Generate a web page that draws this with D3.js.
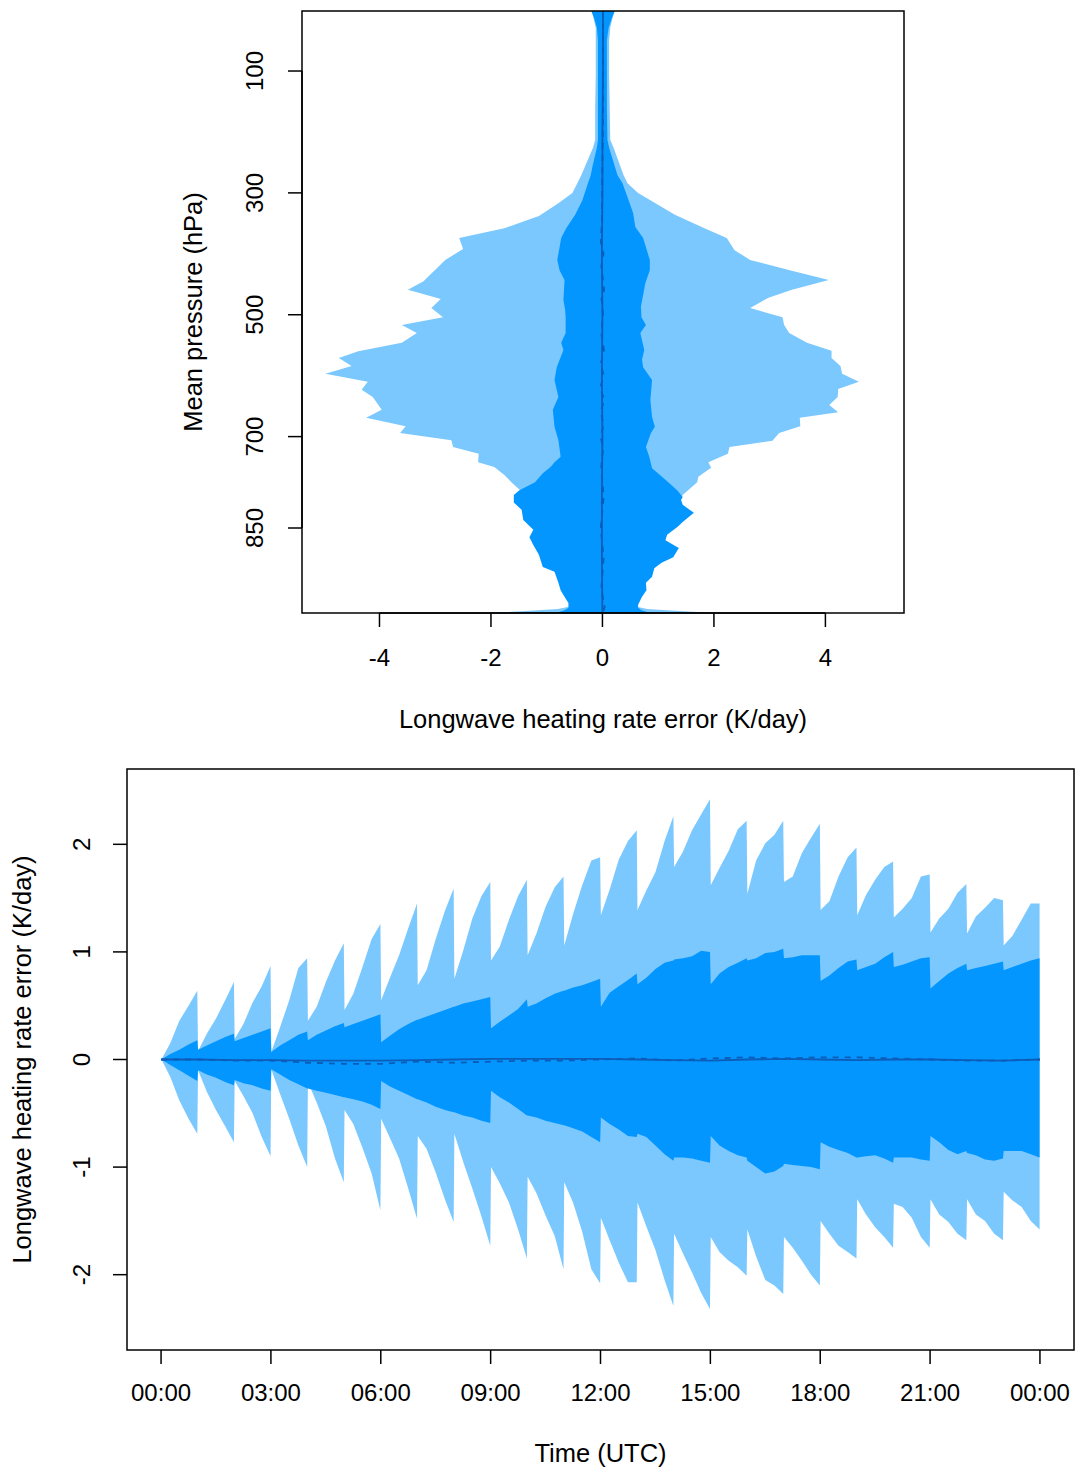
<!DOCTYPE html>
<meta charset="utf-8">
<script src="https://d3js.org/d3.v7.min.js"></script>
<style>
  body { margin: 0; background: #ffffff; }
  svg text { font-family: "Liberation Sans", Arial, Helvetica, sans-serif; font-size: 24px; fill: #000; }
  svg text.title { font-size: 25.5px; }
</style>
<div id="my_dataviz"></div>
<script>

// ---------- top panel: error profile vs mean pressure ----------
// each edge is [pressure (hPa), heating rate error (K/day)]
var lightLeft = [[1.5,-0.19],[13,-0.16],[29,-0.12],[50,-0.12],[107,-0.12],[160,-0.13],[213,-0.13],[226,-0.17],[271,-0.38],[284,-0.45],[300,-0.54],[317,-0.79],[338,-1.14],[358,-1.76],[374,-2.57],[392,-2.50],[410,-2.82],[445,-3.21],[459,-3.49],[474,-2.90],[489,-3.07],[504,-2.86],[517,-3.60],[530,-3.33],[546,-3.60],[560,-4.38],[571,-4.73],[584,-4.50],[597,-4.97],[610,-4.21],[623,-4.32],[635,-4.12],[656,-3.96],[669,-4.24],[683,-3.53],[694,-3.63],[706,-2.71],[717,-2.68],[728,-2.22],[742,-2.23],[750,-1.94],[763,-1.76],[776,-1.62],[787,-1.49],[800,-1.30],[900,-0.90],[970,-0.55],[979,-0.58],[983,-0.80],[986,-1.30],[988.3,-1.78],[989.5,-2.00]];
var lightRight = [[1.5,0.22],[13,0.18],[29,0.14],[50,0.12],[107,0.12],[160,0.13],[213,0.14],[226,0.20],[271,0.38],[284,0.45],[300,0.64],[336,1.30],[358,1.83],[374,2.23],[394,2.37],[410,2.65],[427,3.36],[443,4.06],[459,3.40],[472,2.98],[489,2.65],[504,3.23],[517,3.26],[530,3.35],[546,3.67],[559,4.11],[571,4.11],[584,4.27],[597,4.30],[610,4.60],[622,4.23],[635,4.22],[648,4.07],[660,4.23],[669,3.54],[683,3.55],[694,3.17],[707,3.05],[717,2.28],[728,2.25],[742,1.90],[751,1.95],[766,1.72],[775,1.70],[796,1.44],[850,1.20],[970,0.55],[979,0.60],[983,0.80],[986,1.30],[988.3,1.78],[989.5,2.00]];
var darkLeft = [[1.5,-0.20],[13,-0.15],[29,-0.10],[50,-0.08],[107,-0.08],[160,-0.08],[213,-0.08],[226,-0.10],[257,-0.18],[271,-0.21],[284,-0.26],[312,-0.36],[336,-0.49],[358,-0.65],[374,-0.74],[410,-0.81],[427,-0.77],[443,-0.68],[476,-0.70],[492,-0.67],[504,-0.66],[530,-0.66],[546,-0.74],[558,-0.70],[586,-0.82],[607,-0.86],[635,-0.79],[656,-0.89],[684,-0.86],[706,-0.79],[733,-0.75],[742,-0.86],[750,-0.93],[760,-1.07],[775,-1.21],[788,-1.49],[796,-1.59],[808,-1.59],[820,-1.45],[837,-1.42],[853,-1.24],[865,-1.31],[878,-1.24],[894,-1.14],[914,-1.07],[922,-0.86],[940,-0.79],[952,-0.75],[963,-0.68],[973,-0.61],[981,-0.61],[985,-0.68],[988,-0.78],[989.5,-0.90]];
var darkRight = [[1.5,0.22],[13,0.17],[29,0.11],[50,0.08],[107,0.08],[160,0.08],[213,0.09],[226,0.12],[271,0.27],[284,0.36],[312,0.47],[333,0.55],[356,0.59],[374,0.73],[410,0.85],[427,0.85],[448,0.77],[487,0.69],[504,0.70],[517,0.78],[530,0.68],[558,0.75],[574,0.71],[586,0.73],[607,0.89],[640,0.86],[668,0.89],[684,0.94],[694,0.87],[717,0.78],[733,0.84],[752,0.89],[771,1.13],[788,1.34],[799,1.44],[804,1.41],[812,1.44],[825,1.64],[840,1.44],[848,1.35],[861,1.16],[870,1.13],[883,1.37],[898,1.27],[907,1.06],[916,0.93],[930,0.89],[940,0.78],[952,0.79],[963,0.71],[976,0.64],[981,0.64],[985,0.70],[988,0.80],[989.5,0.92]];
var profMedian = [[1.5,0.01],[100,0.01],[200,0.00],[300,0.00],[400,-0.01],[500,0.00],[600,-0.01],[700,0.00],[800,-0.01],[900,-0.01],[989.5,0.00]];
var profMean = [[1.5,0.01],[150,0.01],[250,0.00],[350,-0.01],[380,-0.03],[400,0.02],[420,-0.02],[460,0.03],[470,-0.02],[500,0.01],[530,-0.02],[560,0.03],[580,-0.03],[600,0.02],[620,-0.04],[640,0.03],[660,-0.03],[680,0.02],[700,-0.03],[720,0.01],[750,-0.02],[800,0.02],[850,-0.03],[900,0.02],[950,-0.02],[980,0.04],[989.5,0.00]];
var profXTicks = [-4, -2, 0, 2, 4];
var profYTicks = [100, 300, 500, 700, 850];

// ---------- bottom panel: error vs time of day ----------
// five samples inside every hour (fractions of the hour), one row per hour 00..23
var hourFrac = [0.01, 0.25, 0.5, 0.75, 0.99];
var lightHi = [
  [0.00,0.15,0.36,0.50,0.64],[0.08,0.24,0.38,0.55,0.72],[0.19,0.33,0.53,0.68,0.87],[0.07,0.30,0.55,0.85,0.94],
  [0.36,0.49,0.72,0.92,1.08],[0.46,0.61,0.86,1.12,1.26],[0.55,0.76,0.97,1.22,1.45],[0.69,0.83,1.12,1.38,1.59],
  [0.75,1.01,1.31,1.52,1.65],[0.92,1.05,1.30,1.52,1.67],[0.97,1.17,1.42,1.60,1.70],[1.06,1.35,1.62,1.85,1.88],
  [1.34,1.58,1.86,2.03,2.13],[1.39,1.57,1.74,2.03,2.26],[1.79,1.93,2.13,2.28,2.42],[1.62,1.78,1.94,2.14,2.22],
  [1.54,1.85,2.01,2.09,2.22],[1.65,1.70,1.92,2.06,2.19],[1.39,1.47,1.70,1.88,1.97],[1.34,1.53,1.67,1.79,1.84],
  [1.32,1.40,1.50,1.70,1.72],[1.18,1.31,1.40,1.55,1.63],[1.17,1.33,1.41,1.50,1.48],[1.06,1.15,1.30,1.45,1.45]
];
var lightLo = [
  [0.00,-0.16,-0.38,-0.55,-0.69],[-0.10,-0.30,-0.47,-0.62,-0.77],[-0.20,-0.34,-0.50,-0.72,-0.90],[-0.09,-0.32,-0.55,-0.80,-1.00],
  [-0.21,-0.40,-0.62,-0.92,-1.14],[-0.47,-0.60,-0.82,-1.06,-1.40],[-0.55,-0.73,-0.92,-1.20,-1.48],[-0.71,-0.83,-1.05,-1.30,-1.51],
  [-0.69,-0.95,-1.20,-1.46,-1.73],[-1.00,-1.15,-1.33,-1.58,-1.85],[-1.09,-1.24,-1.45,-1.64,-1.95],[-1.14,-1.33,-1.60,-1.95,-2.08],
  [-1.47,-1.68,-1.89,-2.07,-2.07],[-1.33,-1.55,-1.77,-2.05,-2.29],[-1.62,-1.80,-1.98,-2.17,-2.32],[-1.65,-1.79,-1.87,-1.93,-2.01],
  [-1.58,-1.83,-2.05,-2.10,-2.18],[-1.65,-1.75,-1.87,-2.00,-2.10],[-1.50,-1.62,-1.73,-1.79,-1.85],[-1.30,-1.44,-1.56,-1.65,-1.75],
  [-1.34,-1.37,-1.47,-1.65,-1.75],[-1.30,-1.44,-1.51,-1.62,-1.68],[-1.30,-1.44,-1.50,-1.62,-1.68],[-1.23,-1.31,-1.37,-1.50,-1.58]
];
var darkHi = [
  [0.00,0.05,0.09,0.14,0.18],[0.09,0.13,0.17,0.21,0.24],[0.17,0.20,0.23,0.26,0.29],[0.07,0.13,0.18,0.23,0.26],
  [0.18,0.23,0.27,0.31,0.34],[0.30,0.33,0.36,0.39,0.42],[0.16,0.22,0.28,0.33,0.37],[0.37,0.40,0.43,0.46,0.49],
  [0.49,0.52,0.54,0.56,0.58],[0.29,0.35,0.41,0.47,0.56],[0.49,0.52,0.57,0.61,0.64],[0.64,0.67,0.69,0.72,0.75],
  [0.49,0.62,0.68,0.74,0.80],[0.70,0.76,0.84,0.90,0.92],[0.93,0.94,0.96,1.01,1.00],[0.70,0.80,0.86,0.90,0.94],
  [0.92,0.94,0.99,1.00,1.03],[0.94,0.95,0.97,0.97,0.97],[0.73,0.78,0.85,0.91,0.93],[0.83,0.86,0.89,0.95,1.00],
  [0.86,0.88,0.91,0.94,0.95],[0.66,0.73,0.80,0.85,0.89],[0.83,0.85,0.87,0.89,0.91],[0.83,0.86,0.89,0.92,0.94]
];
var darkLo = [
  [0.00,-0.05,-0.10,-0.15,-0.20],[-0.10,-0.14,-0.17,-0.21,-0.24],[-0.19,-0.22,-0.24,-0.27,-0.29],[-0.09,-0.14,-0.19,-0.23,-0.27],
  [-0.27,-0.29,-0.31,-0.33,-0.35],[-0.35,-0.37,-0.39,-0.42,-0.46],[-0.20,-0.25,-0.29,-0.33,-0.37],[-0.37,-0.40,-0.44,-0.47,-0.49],
  [-0.49,-0.52,-0.54,-0.57,-0.59],[-0.29,-0.35,-0.40,-0.46,-0.52],[-0.52,-0.54,-0.57,-0.59,-0.61],[-0.61,-0.64,-0.67,-0.72,-0.77],
  [-0.54,-0.60,-0.65,-0.71,-0.72],[-0.69,-0.72,-0.80,-0.88,-0.94],[-0.91,-0.91,-0.92,-0.94,-0.96],[-0.71,-0.80,-0.85,-0.89,-0.91],
  [-0.94,-1.00,-1.06,-1.04,-0.99],[-0.97,-0.98,-0.99,-1.00,-1.02],[-0.77,-0.81,-0.84,-0.87,-0.91],[-0.91,-0.90,-0.89,-0.92,-0.96],
  [-0.91,-0.91,-0.91,-0.93,-0.94],[-0.71,-0.77,-0.84,-0.88,-0.85],[-0.87,-0.89,-0.93,-0.94,-0.92],[-0.85,-0.85,-0.85,-0.88,-0.91]
];
// hourly median (solid) and mean (dashed), hours 0..24
var timeMedian = [0,0.00,-0.005,-0.005,-0.01,-0.01,-0.01,-0.005,0,0.005,0.005,0.005,0.005,0,-0.005,-0.01,0,0.005,0,-0.005,0,0,-0.005,-0.01,0];
var timeMean = [0,0,-0.01,-0.01,-0.03,-0.04,-0.04,-0.02,-0.03,-0.02,-0.01,-0.01,0,0.01,-0.01,0.01,0.02,0.01,0.02,0.02,0.01,0,-0.01,-0.01,0];
var timeTicks = [0, 3, 6, 9, 12, 15, 18, 21, 24];
var timeTickLabels = ["00:00","03:00","06:00","09:00","12:00","15:00","18:00","21:00","00:00"];
var errTicks = [-2, -1, 0, 1, 2];

var lightCol = "#7bc8ff",
    darkCol = "#0496ff",
    lineCol = "#0c5cb8";

var svg = d3.select("#my_dataviz")
  .append("svg")
    .attr("width", 1075)
    .attr("height", 1468);

// ================= top panel =================
var box1 = {left: 302, right: 904, top: 11, bottom: 613};

var x1 = d3.scaleLinear()
  .domain([-5.39, 5.41])
  .range([box1.left, box1.right]);
var y1 = d3.scaleLinear()
  .domain([1.5, 989.5])
  .range([box1.top, box1.bottom]);

svg.append("clipPath").attr("id", "clip1")
  .append("rect")
    .attr("x", box1.left).attr("y", box1.top)
    .attr("width", box1.right - box1.left).attr("height", box1.bottom - box1.top);

var g1 = svg.append("g").attr("clip-path", "url(#clip1)");

var profLine = d3.line()
  .x(function(d) { return x1(d[1]); })
  .y(function(d) { return y1(d[0]); });

// band polygon = left edge top->bottom, then right edge bottom->top
function band(left, right) {
  return profLine(left.concat(right.slice().reverse())) + "Z";
}

g1.append("path").attr("d", band(lightLeft, lightRight)).attr("fill", lightCol);
g1.append("path").attr("d", band(darkLeft, darkRight)).attr("fill", darkCol);
g1.append("path").attr("d", profLine(profMedian))
  .attr("fill", "none").attr("stroke", lineCol).attr("stroke-width", 1.8);
g1.append("path").attr("d", profLine(profMean))
  .attr("fill", "none").attr("stroke", lineCol).attr("stroke-width", 1.8)
  .attr("stroke-dasharray", "6,6");

svg.append("rect")
  .attr("x", box1.left).attr("y", box1.top)
  .attr("width", box1.right - box1.left).attr("height", box1.bottom - box1.top)
  .attr("fill", "none").attr("stroke", "#000").attr("stroke-width", 1.5);

// x axis
svg.append("line")
  .attr("x1", x1(profXTicks[0])).attr("x2", x1(profXTicks[profXTicks.length - 1]))
  .attr("y1", box1.bottom).attr("y2", box1.bottom)
  .attr("stroke", "#000").attr("stroke-width", 1.5);
svg.append("g").selectAll("line")
  .data(profXTicks).enter().append("line")
    .attr("x1", function(d) { return x1(d); }).attr("x2", function(d) { return x1(d); })
    .attr("y1", box1.bottom).attr("y2", box1.bottom + 14)
    .attr("stroke", "#000").attr("stroke-width", 1.5);
svg.append("g").selectAll("text")
  .data(profXTicks).enter().append("text")
    .attr("x", function(d) { return x1(d); })
    .attr("y", 658)
    .attr("dy", "0.35em")
    .attr("text-anchor", "middle")
    .text(function(d) { return d; });
svg.append("text")
  .attr("class", "title")
  .attr("x", (box1.left + box1.right) / 2).attr("y", 719).attr("dy", "0.35em")
  .attr("text-anchor", "middle")
  .text("Longwave heating rate error (K/day)");

// y axis
svg.append("line")
  .attr("x1", box1.left).attr("x2", box1.left)
  .attr("y1", y1(profYTicks[0])).attr("y2", y1(profYTicks[profYTicks.length - 1]))
  .attr("stroke", "#000").attr("stroke-width", 1.5);
svg.append("g").selectAll("line")
  .data(profYTicks).enter().append("line")
    .attr("x1", box1.left - 14).attr("x2", box1.left)
    .attr("y1", function(d) { return y1(d); }).attr("y2", function(d) { return y1(d); })
    .attr("stroke", "#000").attr("stroke-width", 1.5);
svg.append("g").selectAll("text")
  .data(profYTicks).enter().append("text")
    .attr("transform", function(d) { return "translate(255," + y1(d) + ") rotate(-90)"; })
    .attr("dy", "0.35em")
    .attr("text-anchor", "middle")
    .text(function(d) { return d; });
svg.append("text")
  .attr("class", "title")
  .attr("transform", "translate(193," + ((box1.top + box1.bottom) / 2) + ") rotate(-90)")
  .attr("dy", "0.35em")
  .attr("text-anchor", "middle")
  .text("Mean pressure (hPa)");

// ================= bottom panel =================
var box2 = {left: 127, right: 1074, top: 769, bottom: 1350};

var x2 = d3.scaleLinear()
  .domain([-0.93, 24.93])
  .range([box2.left, box2.right]);
var y2 = d3.scaleLinear()
  .domain([-2.7, 2.7])
  .range([box2.bottom, box2.top]);

var samples = [];
for (var h = 0; h < 24; h++) {
  for (var k = 0; k < hourFrac.length; k++) {
    samples.push({
      t: h + hourFrac[k],
      lh: lightHi[h][k], ll: lightLo[h][k],
      dh: darkHi[h][k], dl: darkLo[h][k]
    });
  }
}

svg.append("clipPath").attr("id", "clip2")
  .append("rect")
    .attr("x", box2.left).attr("y", box2.top)
    .attr("width", box2.right - box2.left).attr("height", box2.bottom - box2.top);

var g2 = svg.append("g").attr("clip-path", "url(#clip2)");

g2.append("path")
  .datum(samples)
  .attr("fill", lightCol)
  .attr("d", d3.area()
    .x(function(d) { return x2(d.t); })
    .y0(function(d) { return y2(d.ll); })
    .y1(function(d) { return y2(d.lh); }));

g2.append("path")
  .datum(samples)
  .attr("fill", darkCol)
  .attr("d", d3.area()
    .x(function(d) { return x2(d.t); })
    .y0(function(d) { return y2(d.dl); })
    .y1(function(d) { return y2(d.dh); }));

var hourLine = d3.line()
  .x(function(d, i) { return x2(i); })
  .y(function(d) { return y2(d); });

g2.append("path").attr("d", hourLine(timeMedian))
  .attr("fill", "none").attr("stroke", lineCol).attr("stroke-width", 1.8);
g2.append("path").attr("d", hourLine(timeMean))
  .attr("fill", "none").attr("stroke", lineCol).attr("stroke-width", 1.8)
  .attr("stroke-dasharray", "6,6");

svg.append("rect")
  .attr("x", box2.left).attr("y", box2.top)
  .attr("width", box2.right - box2.left).attr("height", box2.bottom - box2.top)
  .attr("fill", "none").attr("stroke", "#000").attr("stroke-width", 1.5);

// x axis
svg.append("g").selectAll("line")
  .data(timeTicks).enter().append("line")
    .attr("x1", function(d) { return x2(d); }).attr("x2", function(d) { return x2(d); })
    .attr("y1", box2.bottom).attr("y2", box2.bottom + 14)
    .attr("stroke", "#000").attr("stroke-width", 1.5);
svg.append("g").selectAll("text")
  .data(timeTicks).enter().append("text")
    .attr("x", function(d) { return x2(d); })
    .attr("y", 1393)
    .attr("dy", "0.35em")
    .attr("text-anchor", "middle")
    .text(function(d, i) { return timeTickLabels[i]; });
svg.append("text")
  .attr("class", "title")
  .attr("x", x2(12)).attr("y", 1453).attr("dy", "0.35em")
  .attr("text-anchor", "middle")
  .text("Time (UTC)");

// y axis
svg.append("g").selectAll("line")
  .data(errTicks).enter().append("line")
    .attr("x1", box2.left - 14).attr("x2", box2.left)
    .attr("y1", function(d) { return y2(d); }).attr("y2", function(d) { return y2(d); })
    .attr("stroke", "#000").attr("stroke-width", 1.5);
svg.append("g").selectAll("text")
  .data(errTicks).enter().append("text")
    .attr("transform", function(d) { return "translate(82," + y2(d) + ") rotate(-90)"; })
    .attr("dy", "0.35em")
    .attr("text-anchor", "middle")
    .text(function(d) { return d; });
svg.append("text")
  .attr("class", "title")
  .attr("transform", "translate(22," + y2(0) + ") rotate(-90)")
  .attr("dy", "0.35em")
  .attr("text-anchor", "middle")
  .text("Longwave heating rate error (K/day)");

</script>
